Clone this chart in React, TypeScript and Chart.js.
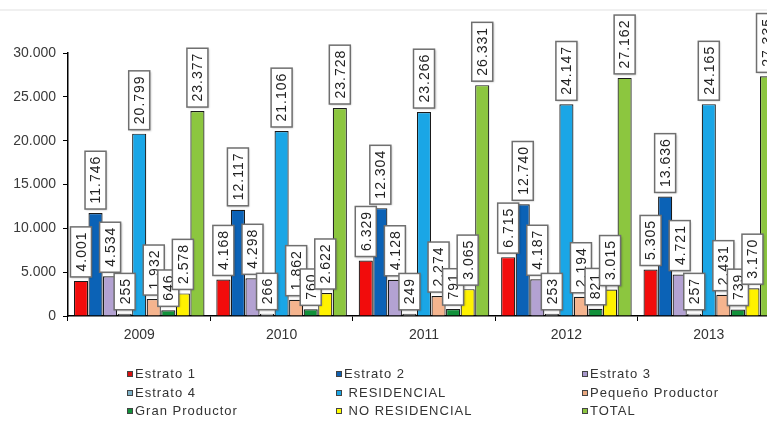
import React, { useEffect, useRef } from "react";
import { Chart, registerables } from "chart.js";

Chart.register(...registerables);

const years = ["2009", "2010", "2011", "2012", "2013"];
const estrato1 = [4001, 4168, 6329, 6715, 5305];
const estrato2 = [11746, 12117, 12304, 12740, 13636];
const estrato3 = [4534, 4298, 4128, 4187, 4721];
const estrato4 = [255, 266, 249, 253, 257];
const residencial = [20799, 21106, 23266, 24147, 24165];
const pequenoProductor = [1932, 1862, 2274, 2194, 2431];
const granProductor = [646, 760, 791, 821, 739];
const noResidencial = [2578, 2622, 3065, 3015, 3170];
const total = [23377, 23728, 26331, 27162, 27335];

const seriesNames = [
  "Estrato 1",
  "Estrato 2",
  "Estrato 3",
  "Estrato 4",
  " RESIDENCIAL",
  "Pequeño Productor",
  "Gran Productor",
  " NO RESIDENCIAL",
  "TOTAL",
];
const seriesValues = [
  estrato1,
  estrato2,
  estrato3,
  estrato4,
  residencial,
  pequenoProductor,
  granProductor,
  noResidencial,
  total,
];
const seriesColors = [
  "#f20c0c",
  "#0b62b6",
  "#b3a2d2",
  "#f4f7fa",
  "#1aa6e6",
  "#f5b48e",
  "#11913a",
  "#fff200",
  "#8cc63f",
];
const legendMarkerColors = [
  "#d81010",
  "#1060b0",
  "#a898cc",
  "#7fb3c9",
  "#1aa6e6",
  "#e8a880",
  "#11913a",
  "#ffff00",
  "#8cc63f",
];

const yMax = 30000;
const yStep = 5000;

function fmt(v: number): string {
  return String(Math.round(v)).replace(/\B(?=(\d{3})+(?!\d))/g, ".");
}

const labelPlugin = {
  id: "boxLabels",
  afterDatasetsDraw(chart: any) {
    const ctx = chart.ctx as CanvasRenderingContext2D;
    ctx.save();
    ctx.font = "14px Arial, 'Liberation Sans', sans-serif";
    (ctx as any).letterSpacing = "1px";
    chart.data.datasets.forEach((ds: any, i: number) => {
      const meta = chart.getDatasetMeta(i);
      meta.data.forEach((el: any, j: number) => {
        const txt = fmt(ds.data[j]);
        const tw = ctx.measureText(txt).width;
        const boxH = tw + 10;
        const boxW = 21;
        const bottom = el.y - 4;
        const top = bottom - boxH;
        const left = el.x - boxW / 2;
        ctx.shadowColor = "rgba(0,0,0,0.25)";
        ctx.shadowBlur = 2;
        ctx.shadowOffsetX = 1;
        ctx.shadowOffsetY = 1;
        ctx.fillStyle = "#ffffff";
        ctx.fillRect(left, top, boxW, boxH);
        ctx.shadowColor = "transparent";
        ctx.strokeStyle = "#6f6f6f";
        ctx.lineWidth = 1.5;
        ctx.strokeRect(left, top, boxW, boxH);
        ctx.save();
        ctx.translate(el.x + 1, top + boxH / 2);
        ctx.rotate(-Math.PI / 2);
        ctx.fillStyle = "#222222";
        ctx.textAlign = "center";
        ctx.textBaseline = "middle";
        ctx.fillText(txt, 0.5, 0);
        ctx.restore();
      });
    });
    ctx.restore();
  },
};

const legendPlugin = {
  id: "gridLegend",
  beforeDraw(chart: any) {
    const ctx = chart.ctx as CanvasRenderingContext2D;
    ctx.save();
    ctx.fillStyle = "#f0f0f0";
    ctx.fillRect(0, 9, chart.width, 2);
    ctx.restore();
  },
  afterDraw(chart: any) {
    const ctx = chart.ctx as CanvasRenderingContext2D;
    const colX = [127, 336, 582];
    const rowY = [374, 393, 411];
    ctx.save();
    ctx.font = "13px Arial, 'Liberation Sans', sans-serif";
    (ctx as any).letterSpacing = "1px";
    ctx.textBaseline = "middle";
    chart.data.datasets.forEach((ds: any, i: number) => {
      const x = colX[i % 3];
      const y = rowY[Math.floor(i / 3)];
      ctx.fillStyle = legendMarkerColors[i];
      ctx.fillRect(x, y - 3, 6, 6);
      ctx.strokeStyle = "#444";
      ctx.lineWidth = 1;
      ctx.strokeRect(x + 0.5, y - 2.5, 5, 5);
      ctx.fillStyle = "#333333";
      ctx.fillText(ds.label, x + 8, y);
    });
    ctx.restore();
  },
};

export default function App() {
  const canvasRef = useRef<HTMLCanvasElement | null>(null);

  useEffect(() => {
    document.body.style.margin = "0";
    const canvas = canvasRef.current;
    if (!canvas) return;
    const chart = new Chart(canvas, {
      type: "bar",
      data: {
        labels: years,
        datasets: seriesNames.map((name, i) => ({
          label: name,
          data: seriesValues[i],
          backgroundColor: seriesColors[i],
          borderColor: "#1a1a1a",
          borderWidth: 1.2,
          categoryPercentage: 0.92,
          barPercentage: 0.97,
        })),
      },
      options: {
        responsive: false,
        animation: false,
        devicePixelRatio: 1,
        layout: { padding: { left: 0, top: 53, right: 10, bottom: 76 } },
        plugins: {
          legend: { display: false },
          tooltip: { enabled: false },
          title: { display: false },
        },
        scales: {
          x: {
            offset: true,
            grid: {
              display: true,
              drawOnChartArea: false,
              drawTicks: true,
              tickLength: 5,
              color: "#000",
              offset: true,
            },
            border: { display: true, color: "#000", width: 1.5 },
            ticks: {
              color: "#333",
              font: { family: "Arial, 'Liberation Sans', sans-serif", size: 14 },
              padding: 6,
            },
            afterFit: (s: any) => {
              s.height = 30;
            },
          },
          y: {
            min: 0,
            max: yMax,
            grid: {
              display: true,
              drawOnChartArea: false,
              drawTicks: true,
              tickLength: 5,
              color: "#000",
            },
            border: { display: true, color: "#000", width: 1.5 },
            ticks: {
              stepSize: yStep,
              color: "#3a3a3a",
              padding: 7,
              font: { family: "Arial, 'Liberation Sans', sans-serif", size: 14 },
              callback: (v: any) => fmt(Number(v)),
            },
            afterFit: (s: any) => {
              s.width = 68;
            },
          },
        },
      },
      plugins: [labelPlugin, legendPlugin],
    });
    return () => chart.destroy();
  }, []);

  return (
    <div
      style={{
        position: "fixed",
        left: 0,
        top: 0,
        width: 767,
        height: 422,
        overflow: "hidden",
        background: "#ffffff",
      }}
    >
      <canvas
        ref={canvasRef}
        width={790}
        height={422}
        style={{ width: 790, height: 422, display: "block" }}
      />
    </div>
  );
}
